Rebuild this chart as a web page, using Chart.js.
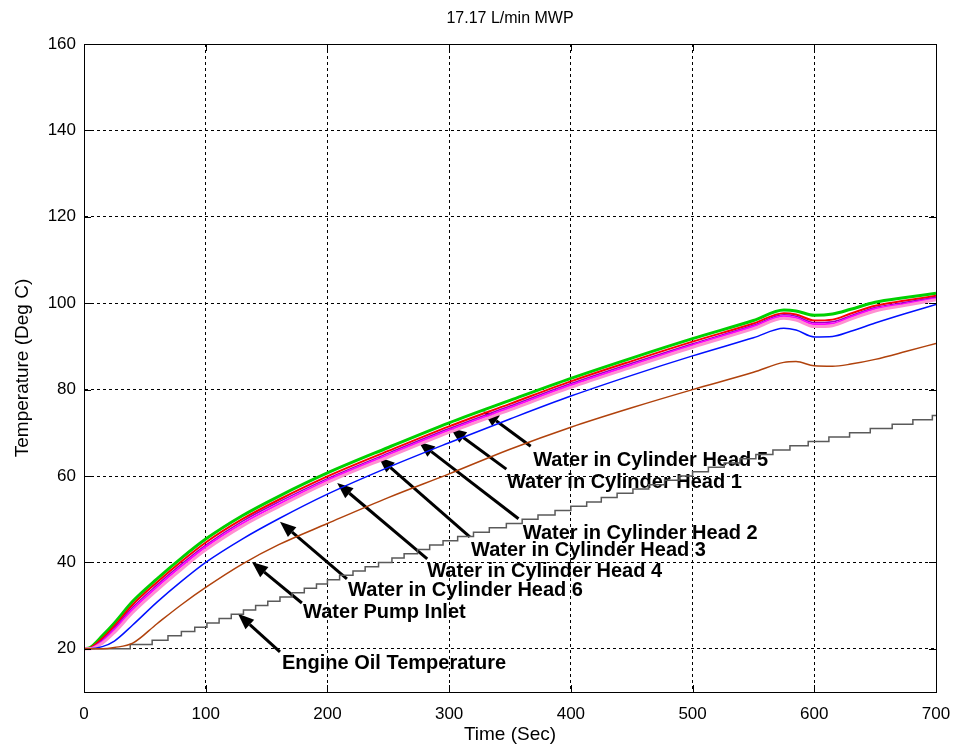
<!DOCTYPE html>
<html>
<head>
<meta charset="utf-8">
<script src="https://cdn.jsdelivr.net/npm/chart.js@4.4.0/dist/chart.umd.min.js"></script>
<style>
  html, body { margin: 0; padding: 0; background: #fff; }
  #myChart { display: block; }
</style>
</head>
<body>
<canvas id="myChart" width="956" height="747"></canvas>
<script>
const FONT = 'Arial, "Liberation Sans", sans-serif';

// time axis (sec) shared by the smooth curves
const time = [0, 5, 15, 25, 40, 60, 80, 100, 130, 160, 200, 250, 300, 350, 400, 450, 500, 550, 575, 585, 600, 615, 630, 650, 675, 700];

const head5 = [20, 20.3, 23, 26, 31, 36.2, 41, 45.4, 50.8, 55.3, 60.7, 66.6, 72.3, 77.5, 82.6, 87.3, 91.8, 96, 98.4, 98.2, 97.2, 97.5, 98.6, 100.2, 101.3, 102.3];
const head1 = [20, 20.2, 22.4, 25.3, 30.2, 35.4, 40.2, 44.6, 50, 54.5, 59.9, 65.8, 71.5, 76.7, 81.9, 86.6, 91.1, 95.3, 97.7, 97.4, 96.0, 96.2, 97.6, 99.4, 100.6, 101.7];
const head2 = [20, 20.1, 22, 24.8, 29.6, 34.8, 39.6, 44, 49.5, 54, 59.4, 65.3, 71, 76.2, 81.4, 86.1, 90.6, 94.9, 97.3, 97, 95.5, 95.7, 97.1, 99, 100.2, 101.4];
const head3 = [20, 20.1, 21.7, 24.4, 29.1, 34.3, 39.1, 43.6, 49, 53.5, 59, 64.9, 70.6, 75.8, 81, 85.7, 90.3, 94.6, 97, 96.6, 95.1, 95.3, 96.8, 98.7, 99.9, 101.1];
const head4 = [20, 20, 21.3, 23.8, 28.4, 33.6, 38.4, 42.9, 48.4, 52.9, 58.5, 64.4, 70.1, 75.3, 80.5, 85.2, 89.8, 94.1, 96.5, 96.1, 94.6, 94.8, 96.3, 98.2, 99.5, 100.8];
const head6 = [20, 20, 20.5, 21.8, 25.5, 30.8, 35.6, 40, 45.4, 50.1, 55.8, 62, 67.7, 73.2, 78.5, 83.3, 87.8, 92, 94.2, 93.8, 92.2, 92.3, 93.5, 95.4, 97.6, 99.7];
const pumpInlet = [20, 20, 20, 20.3, 21.3, 25.8, 30.2, 34.2, 39.6, 44.1, 49, 55, 60.5, 66.2, 71.3, 75.8, 80, 84, 86.3, 86.5, 85.5, 85.4, 85.9, 87, 88.8, 90.7];

// engine oil is logged in whole degrees: time at which each new value starts
const oilTime = [0, 38, 56, 69, 80, 91, 101, 111, 121, 131, 141, 151, 161, 171, 181, 191, 200,
  210, 221, 231, 242, 253, 263, 274, 284, 295, 307, 320, 333, 347, 360, 373, 387, 400,
  413, 425, 438, 451, 464, 477, 489, 500, 513, 526, 539, 552, 566, 580, 595, 612, 629, 646, 664, 681, 697, 700];
const oilTemp = [20, 21, 22, 23, 24, 25, 26, 27, 28, 29, 30, 31, 32, 33, 34, 35, 36,
  37, 38, 39, 40, 41, 42, 43, 44, 45, 46, 47, 48, 49, 50, 51, 52, 53,
  54, 55, 56, 57, 58, 59, 60, 61, 62, 63, 64, 65, 66, 67, 68, 69, 70, 71, 72, 73, 74, 74];

const xTicks = [0, 100, 200, 300, 400, 500, 600, 700];
const yTicks = [20, 40, 60, 80, 100, 120, 140, 160];

// annotation arrows, in data units: tip on the curve, tail, label start
const notes = [
  { text: 'Water in Cylinder Head 5', tip: [328, 75.0], tail: [367, 66.9], at: [369, 63.5] },
  { text: 'Water in Cylinder Head 1', tip: [301, 71.1], tail: [347, 61.6], at: [347.5, 58.6] },
  { text: 'Water in Cylinder Head 2', tip: [275, 67.9], tail: [357, 50.1], at: [360.5, 46.6] },
  { text: 'Water in Cylinder Head 3', tip: [242, 64.4], tail: [317, 45.9], at: [318, 42.7] },
  { text: 'Water in Cylinder Head 4', tip: [208, 58.4], tail: [282, 40.8], at: [282, 38.0] },
  { text: 'Water in Cylinder Head 6', tip: [161, 49.4], tail: [216, 36.2], at: [217, 33.4] },
  { text: 'Water Pump Inlet', tip: [138, 40.1], tail: [179, 30.6], at: [180, 28.3] },
  { text: 'Engine Oil Temperature', tip: [126.5, 28.1], tail: [161, 19.3], at: [162.7, 16.5] }
];

const pts = (xs, ys) => xs.map((v, i) => ({ x: v, y: ys[i] }));

function line(label, vals, color, width) {
  return {
    label: label,
    data: pts(time, vals),
    borderColor: color,
    backgroundColor: color,
    borderWidth: width,
    pointRadius: 0,
    cubicInterpolationMode: 'monotone',
    fill: false
  };
}

const data = {
  datasets: [
    line('Water Pump Inlet', pumpInlet, '#b0420c', 1.5),
    line('Water in Cylinder Head 6', head6, '#0010ff', 1.5),
    line('Water in Cylinder Head 4', head4, '#ff8fd0', 3),
    line('Water in Cylinder Head 3', head3, '#ff00ff', 2),
    line('Water in Cylinder Head 2', head2, '#a000c0', 1.5),
    line('Water in Cylinder Head 1', head1, '#ff0000', 2),
    line('Water in Cylinder Head 5', head5, '#00d000', 3),
    {
      label: 'Engine Oil Temperature',
      data: pts(oilTime, oilTemp),
      borderColor: '#5a5a5a',
      borderWidth: 1.5,
      pointRadius: 0,
      stepped: true,
      fill: false
    }
  ]
};

const notesPlugin = {
  id: 'notes',
  beforeDatasetsDraw(chart) {
    const { ctx, scales: { x, y } } = chart;
    ctx.save();
    ctx.strokeStyle = '#000';
    ctx.fillStyle = '#000';
    ctx.lineWidth = 3;
    for (let n of notes) {
      const x1 = x.getPixelForValue(n.tail[0]), y1 = y.getPixelForValue(n.tail[1]);
      const x2 = x.getPixelForValue(n.tip[0]), y2 = y.getPixelForValue(n.tip[1]);
      const a = Math.atan2(y2 - y1, x2 - x1);
      const hl = 16, hw = 6.5;
      const bx = x2 - hl * Math.cos(a), by = y2 - hl * Math.sin(a);
      ctx.beginPath();
      ctx.moveTo(x1, y1);
      ctx.lineTo(bx, by);
      ctx.stroke();
      ctx.beginPath();
      ctx.moveTo(x2, y2);
      ctx.lineTo(bx + hw * Math.sin(a), by - hw * Math.cos(a));
      ctx.lineTo(bx - hw * Math.sin(a), by + hw * Math.cos(a));
      ctx.closePath();
      ctx.fill();
    }
    ctx.font = 'bold 20px ' + FONT;
    ctx.textAlign = 'left';
    ctx.textBaseline = 'middle';
    for (let n of notes) {
      ctx.fillText(n.text, x.getPixelForValue(n.at[0]), y.getPixelForValue(n.at[1]));
    }
    ctx.restore();
  },
  afterDraw(chart) {
    const { ctx, chartArea: c, scales: { x, y } } = chart;
    ctx.save();
    ctx.strokeStyle = '#000';
    ctx.lineWidth = 1;
    ctx.strokeRect(Math.round(c.left) + 0.5, Math.round(c.top) + 0.5, Math.round(c.right - c.left), Math.round(c.bottom - c.top));
    ctx.beginPath();
    for (let v of xTicks) {
      const px = Math.round(x.getPixelForValue(v)) + 0.5;
      ctx.moveTo(px, c.bottom); ctx.lineTo(px, c.bottom - 7);
      ctx.moveTo(px, c.top); ctx.lineTo(px, c.top + 7);
    }
    for (let v of yTicks) {
      const py = Math.round(y.getPixelForValue(v)) + 0.5;
      ctx.moveTo(c.left, py); ctx.lineTo(c.left + 7, py);
      ctx.moveTo(c.right, py); ctx.lineTo(c.right - 7, py);
    }
    ctx.stroke();
    ctx.restore();
  }
};

const config = {
  type: 'line',
  data: data,
  options: {
    responsive: false,
    animation: false,
    layout: { padding: { left: 0, right: 20, top: 0, bottom: 0 } },
    plugins: {
      legend: { display: false },
      tooltip: { enabled: false },
      title: {
        display: true,
        text: '17.17 L/min MWP',
        fullSize: false,
        color: '#000',
        font: { family: FONT, size: 16, weight: 'normal' },
        padding: { top: 9, bottom: 15.8 }
      }
    },
    scales: {
      x: {
        type: 'linear',
        min: 0,
        max: 700,
        afterBuildTicks: axis => { axis.ticks = xTicks.map(v => ({ value: v })); },
        afterFit: axis => { axis.height = 55; axis.paddingLeft = 0; axis.paddingRight = 0; },
        ticks: { color: '#000', padding: 12, maxRotation: 0, font: { family: FONT, size: 17 } },
        grid: { color: '#000', lineWidth: 1, drawTicks: false },
        border: { color: '#000', width: 1, dash: [3, 3] },
        title: { display: true, text: 'Time (Sec)', color: '#000', font: { family: FONT, size: 19 }, padding: { top: 0, bottom: 1 } }
      },
      y: {
        type: 'linear',
        min: 10,
        max: 160,
        afterBuildTicks: axis => { axis.ticks = yTicks.map(v => ({ value: v })); },
        afterFit: axis => { axis.width = 84; },
        ticks: { color: '#000', padding: 8, font: { family: FONT, size: 17 } },
        grid: { color: '#000', lineWidth: 1, drawTicks: false },
        border: { color: '#000', width: 1, dash: [3, 3] },
        title: { display: true, text: 'Temperature (Deg C)', color: '#000', font: { family: FONT, size: 19 }, padding: { top: 11.6, bottom: 0 } }
      }
    }
  },
  plugins: [notesPlugin]
};

const myChart = new Chart(document.getElementById('myChart').getContext('2d'), config);
</script>
</body>
</html>
